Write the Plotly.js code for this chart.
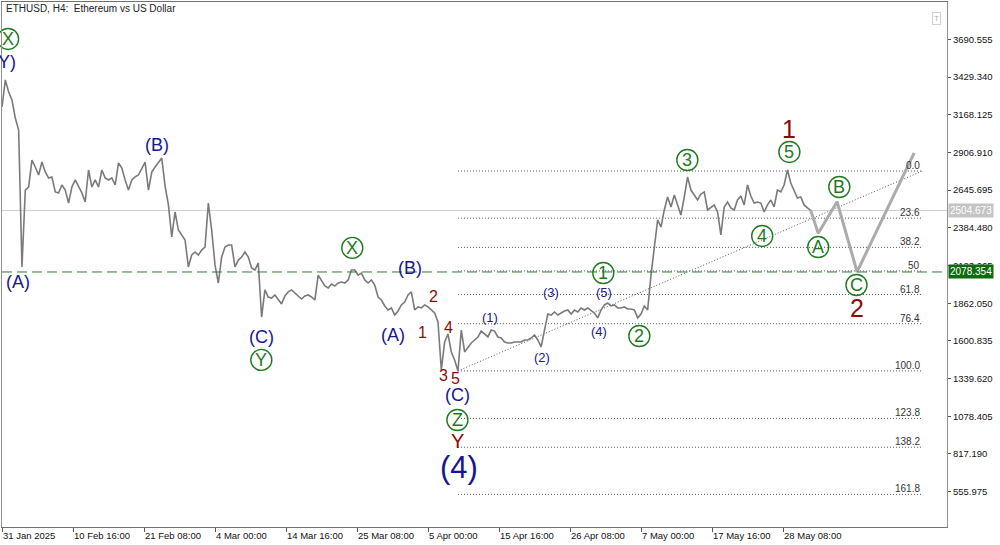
<!DOCTYPE html>
<html>
<head>
<meta charset="utf-8">
<script src="https://cdn.plot.ly/plotly-3.0.1.min.js"></script>
<style>
html,body{margin:0;padding:0;background:#fff;}
#chart{width:1000px;height:545px;}
</style>
</head>
<body>
<div id="chart"></div>
<script>
// ---- Data ----
// ETHUSD H4 closes sampled every 12 hours starting 31 Jan 2025 00:00
const seriesStart = '2025-01-31 00:00';
const sampleStepHours = 12;
const prices = [
  3222, 3409, 3325, 3270, 3145, 3062, 2113, 2646, 2667, 2854,
  2806, 2750, 2840, 2771, 2730, 2737, 2633, 2626, 2681, 2646,
  2556, 2667, 2716, 2667, 2626, 2563, 2785, 2667, 2716, 2667,
  2785, 2730, 2716, 2730, 2681, 2834, 2799, 2716, 2646, 2716,
  2737, 2750, 2799, 2840, 2646, 2771, 2806, 2834, 2868, 2674,
  2543, 2321, 2494, 2369, 2335, 2300, 2113, 2196, 2217, 2196,
  2231, 2251, 2556, 2369, 2127, 2002, 2182, 2251, 2265, 2265,
  2113, 2161, 2182, 2217, 2182, 2106, 2092, 2141, 1766, 1954,
  1905, 1898, 1919, 1884, 1857, 1912, 1940, 1954, 1933, 1905,
  1891, 1912, 1919, 1905, 1884, 2057, 2016, 1981, 1967, 1995,
  1981, 2002, 2009, 2002, 2023, 2092, 2092, 2057, 2071, 2023,
  2002, 2023, 1988, 1905, 1884, 1843, 1815, 1829, 1780, 1808,
  1850, 1870, 1919, 1940, 1815, 1836, 1829, 1850, 1836, 1815,
  1794, 1732, 1399, 1593, 1649, 1524, 1469, 1392, 1676, 1524,
  1559, 1586, 1607, 1628, 1669, 1649, 1628, 1676, 1669, 1628,
  1621, 1593, 1586, 1586, 1593, 1593, 1593, 1607, 1607, 1621,
  1642, 1607, 1559, 1676, 1787, 1780, 1801, 1780, 1794, 1808,
  1815, 1787, 1815, 1801, 1829, 1815, 1829, 1808, 1794, 1760,
  1815, 1850, 1863, 1843, 1850, 1829, 1829, 1836, 1822, 1822,
  1815, 1760, 1787, 1843, 1815, 2057, 2265, 2439, 2390, 2508,
  2598, 2529, 2612, 2543, 2473, 2598, 2737, 2646, 2612, 2577,
  2619, 2633, 2508, 2529, 2543, 2494, 2335, 2529, 2563, 2522,
  2508, 2577, 2605, 2543, 2681, 2605, 2556, 2563, 2556, 2494,
  2543, 2577, 2529, 2646, 2633, 2681, 2785, 2695, 2640, 2591,
  2598, 2543, 2522, 2505
];

// Forecast path (wave 2: A-B-C then up)
const projTimes  = ['2025-06-01 12:00', '2025-06-02 15:00', '2025-06-05 11:00', '2025-06-08 11:00', '2025-06-17 01:00'];
const projPrices = [2505, 2346, 2565, 2080, 2903];

// Fibonacci retracement
const fibStart = '2025-04-09 12:00';
const fibEnd   = '2025-06-18 06:00';
const fibLow   = 1393;
const fibHigh  = 2778;
const fibLevels = [0, 23.6, 38.2, 50, 61.8, 76.4, 100, 123.8, 138.2, 161.8];
const fibTexts  = ['0.0', '23.6', '38.2', '50', '61.8', '76.4', '100.0', '123.8', '138.2', '161.8'];

const currentPrice = 2504.673;
const levelPrice   = 2078.354;

// Axis ticks
const xTickVals = ['2025-01-31 00:00','2025-02-10 16:00','2025-02-21 08:00','2025-03-04 00:00','2025-03-14 16:00','2025-03-25 08:00',
                   '2025-04-05 00:00','2025-04-15 16:00','2025-04-26 08:00','2025-05-07 00:00','2025-05-17 16:00','2025-05-28 08:00'];
const xTickText = ['31 Jan 2025','10 Feb 16:00','21 Feb 08:00','4 Mar 00:00','14 Mar 16:00','25 Mar 08:00',
                   '5 Apr 00:00','15 Apr 16:00','26 Apr 08:00','7 May 00:00','17 May 16:00','28 May 08:00'];
const yTickVals = [555.975, 817.190, 1078.405, 1339.620, 1600.835, 1862.050, 2123.265, 2384.480, 2645.695, 2906.910, 3168.125, 3429.340, 3690.555];
const yTickText = ['555.975','817.190','1078.405','1339.620','1600.835','1862.050','2123.265','2384.480','2645.695','2906.910','3168.125','3429.340','3690.555'];

// Wave labels: text, time, price, kind
const waveLabels = [
  ['X',   '2025-01-31 22:00', 3693, 'circle'],
  ['(Y)', '2025-01-31 08:00', 3533, 'navyL'],
  ['(A)', '2025-02-02 11:00', 2009, 'navyL'],
  ['(B)', '2025-02-23 08:00', 2958, 'navyL'],
  ['(C)', '2025-03-10 23:00', 1628, 'navyL'],
  ['Y',   '2025-03-10 23:00', 1469, 'circle'],
  ['X',   '2025-03-24 15:00', 2245, 'circle'],
  ['(A)', '2025-03-30 19:00', 1642, 'navyL'],
  ['(B)', '2025-04-02 08:00', 2106, 'navyL'],
  ['1',   '2025-04-04 03:00', 1656, 'red'],
  ['2',   '2025-04-05 19:00', 1905, 'red'],
  ['3',   '2025-04-07 07:00', 1358, 'red'],
  ['4',   '2025-04-08 01:00', 1697, 'red'],
  ['5',   '2025-04-09 02:00', 1337, 'red'],
  ['(C)', '2025-04-09 10:00', 1226, 'navyL'],
  ['Z',   '2025-04-09 10:00', 1053, 'circle'],
  ['Y',   '2025-04-09 10:00',  906, 'redL'],
  ['(4)', '2025-04-09 14:00',  722, 'navyXL'],
  ['(1)', '2025-04-14 06:00', 1760, 'navyS'],
  ['(2)', '2025-04-22 04:00', 1489, 'navyS'],
  ['(3)', '2025-04-23 10:00', 1933, 'navyS'],
  ['(4)', '2025-04-30 17:00', 1663, 'navyS'],
  ['(5)', '2025-05-01 12:00', 1933, 'navyS'],
  ['1',   '2025-05-01 08:00', 2071, 'circle'],
  ['2',   '2025-05-06 18:00', 1635, 'circle'],
  ['3',   '2025-05-13 23:00', 2854, 'circle'],
  ['4',   '2025-05-25 05:00', 2328, 'circle'],
  ['5',   '2025-05-29 07:00', 2910, 'circle'],
  ['1',   '2025-05-29 07:00', 3069, 'redXL'],
  ['A',   '2025-06-02 15:00', 2251, 'circle'],
  ['B',   '2025-06-05 19:00', 2667, 'circle'],
  ['C',   '2025-06-08 09:00', 1988, 'circle'],
  ['2',   '2025-06-08 09:00', 1829, 'redXL']
];

// ---- Build ----
const FONT = 'Liberation Sans, Arial, sans-serif';
const NAVY = '#17178f', DRED = '#8b0b0b', GREEN = '#1f7a1f';
const styles = {
  navyS:  {size: 13, color: NAVY},
  navyL:  {size: 18, color: NAVY},
  navyXL: {size: 31, color: NAVY},
  red:    {size: 16, color: DRED},
  redL:   {size: 20, color: DRED},
  redXL:  {size: 25, color: DRED}
};

function fmt(ms){ return new Date(ms).toISOString().slice(0,16).replace('T',' '); }
const t0 = Date.parse(seriesStart.replace(' ','T') + ':00Z');
const barTimes = prices.map((_, i) => fmt(t0 + i * sampleStepHours * 3600000));

const traces = [];
traces.push({
  x: barTimes, y: prices, type: 'scatter', mode: 'lines',
  line: {color: '#7a7a7a', width: 1.6}, hoverinfo: 'skip'
});
traces.push({
  x: projTimes, y: projPrices, type: 'scatter', mode: 'lines',
  line: {color: '#ababab', width: 3}, hoverinfo: 'skip'
});
const circ = waveLabels.filter(l => l[3] === 'circle');
traces.push({
  x: circ.map(l => l[1]), y: circ.map(l => l[2]),
  type: 'scatter', mode: 'markers',
  marker: {symbol: 'circle', size: 21, color: 'rgba(255,255,255,0)', line: {color: GREEN, width: 1.4}},
  cliponaxis: false, hoverinfo: 'skip'
});

const shapes = [];
shapes.push({type: 'line', xref: 'paper', x0: 0, x1: 1, yref: 'y', y0: currentPrice, y1: currentPrice,
             line: {color: '#cfcfcf', width: 1}, layer: 'below'});
const fibPrice = lv => fibHigh - (fibHigh - fibLow) * lv / 100;
fibLevels.forEach(lv => {
  shapes.push({type: 'line', xref: 'x', x0: fibStart, x1: fibEnd, yref: 'y', y0: fibPrice(lv), y1: fibPrice(lv),
               line: {color: '#555', width: 1, dash: '1px,2px'}, layer: 'below'});
});
shapes.push({type: 'line', xref: 'x', x0: fibStart, x1: fibEnd, yref: 'y', y0: fibLow, y1: fibHigh,
             line: {color: '#555', width: 1, dash: '1px,2px'}, layer: 'below'});
shapes.push({type: 'line', xref: 'paper', x0: 0, x1: 1, yref: 'y', y0: levelPrice, y1: levelPrice,
             line: {color: '#2e7d2e', width: 1, dash: '10px,5px'}, layer: 'above'});

const annotations = [];
annotations.push({xref: 'paper', yref: 'paper', x: 0.002, y: 0.987, xanchor: 'left', yanchor: 'middle',
  text: 'ETHUSD, H4:\u00a0 Ethereum vs US Dollar', showarrow: false, font: {family: FONT, size: 10, color: '#222'}});
annotations.push({xref: 'paper', yref: 'paper', x: 0.9894, y: 0.9695, xanchor: 'center', yanchor: 'middle',
  text: 'T', showarrow: false, font: {family: FONT, size: 8, color: '#b0b0b0'},
  bordercolor: '#d0d0d0', borderwidth: 1, borderpad: 1});
fibLevels.forEach((lv, i) => {
  annotations.push({xref: 'x', yref: 'y', x: fibEnd, y: fibPrice(lv), xanchor: 'right', yanchor: 'bottom',
    text: fibTexts[i], showarrow: false, yshift: -2, font: {family: FONT, size: 10, color: '#333'}});
});
annotations.push({xref: 'paper', yref: 'y', x: 1, y: currentPrice, xanchor: 'left', yanchor: 'middle',
  text: '2504.673', showarrow: false, bgcolor: '#c4c4c4', borderpad: 1, xshift: 1,
  font: {family: FONT, size: 10, color: '#ffffff'}});
annotations.push({xref: 'paper', yref: 'y', x: 1, y: levelPrice, xanchor: 'left', yanchor: 'middle',
  text: '2078.354', showarrow: false, bgcolor: '#0d6b0d', borderpad: 1, xshift: 1,
  font: {family: FONT, size: 10, color: '#ffffff'}});
waveLabels.forEach(l => {
  const s = l[3] === 'circle' ? {size: 18, color: GREEN} : styles[l[3]];
  annotations.push({xref: 'x', yref: 'y', x: l[1], y: l[2], xanchor: 'center', yanchor: 'middle',
    text: l[0], showarrow: false, borderpad: 0, font: {family: FONT, size: s.size, color: s.color}});
});

const layout = {
  width: 1000, height: 545,
  margin: {l: 2, r: 53, t: 2, b: 18},
  paper_bgcolor: '#ffffff', plot_bgcolor: '#ffffff',
  showlegend: false, hovermode: false,
  xaxis: {
    type: 'date', range: ['2025-01-31 00:00', '2025-06-21 23:18'],
    tickmode: 'array', tickvals: xTickVals, ticktext: xTickText,
    ticks: 'outside', ticklen: 4, tickcolor: '#555', ticklabelposition: 'outside right',
    tickfont: {family: FONT, size: 9.5, color: '#111'},
    showgrid: false, zeroline: false, showline: true, mirror: true, linecolor: '#707070', linewidth: 1
  },
  yaxis: {
    side: 'right', range: [311.3, 3949.0],
    tickmode: 'array', tickvals: yTickVals, ticktext: yTickText,
    ticks: 'outside', ticklen: 3, tickcolor: '#555',
    tickfont: {family: FONT, size: 9.5, color: '#111'},
    showgrid: false, zeroline: false, showline: true, mirror: true, linecolor: '#909090', linewidth: 1
  },
  shapes: shapes,
  annotations: annotations
};

Plotly.newPlot('chart', traces, layout, {displayModeBar: false, staticPlot: true});
</script>
</body>
</html>
